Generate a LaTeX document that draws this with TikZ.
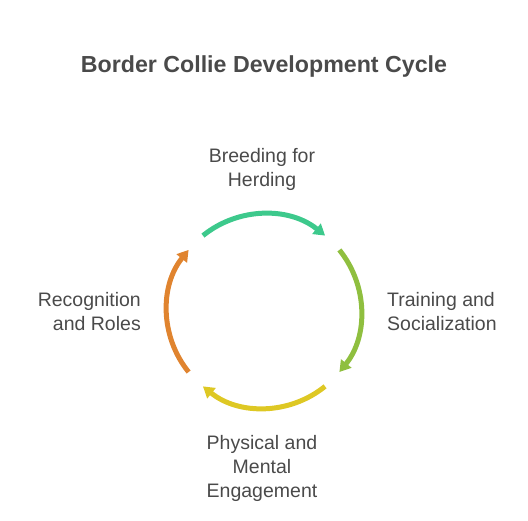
\documentclass[tikz,border=0pt]{standalone}
\usepackage{fontspec}
\setmainfont{Liberation Sans}
\usetikzlibrary{arrows.meta,calc}
\definecolor{textgray}{HTML}{4A4A4A}
\definecolor{cgreen}{HTML}{3DC98C}
\definecolor{clime}{HTML}{8FBF3F}
\definecolor{cyellow}{HTML}{DEC824}
\definecolor{corange}{HTML}{E0842F}
\begin{document}
\begin{tikzpicture}[x=1pt, y=1pt]
\useasboundingbox (0,0) rectangle (528,521);

\tikzset{every node/.style={text=textgray, inner sep=0pt, font=\fontsize{19.5}{24}\selectfont}}
\node[anchor=base, font=\bfseries\fontsize{23.2}{28}\selectfont] (title) at (264, 448) {Border Collie Development Cycle};
\node[anchor=base, align=center] (breeding) at (262, 334) {Breeding for\\Herding};
\node[anchor=base west, align=left] (training) at (387, 190) {Training and\\Socialization};
\node[anchor=base, align=center] (physical) at (262, 23) {Physical and\\Mental\\Engagement};
\node[anchor=base east, align=right] (recognition) at (141, 190) {Recognition\\and Roles};

\coordinate (c) at (264, 210);
\coordinate (g1) at ($(c)+(129:97)$);
\coordinate (l1) at ($(c)+(39:97)$);
\coordinate (y1) at ($(c)+(-51:97)$);
\coordinate (o1) at ($(c)+(-141:97)$);

\tikzset{mystyle/.style={line width=5pt, -{Triangle[length=11pt,width=13pt]}}}
\draw[mystyle, cgreen] (g1) arc[start angle=129, end angle=51, radius=97];
\draw[mystyle, clime] (l1) arc[start angle=39, end angle=-39, radius=97];
\draw[mystyle, cyellow] (y1) arc[start angle=-51, end angle=-129, radius=97];
\draw[mystyle, corange] (o1) arc[start angle=-141, end angle=-219, radius=97];
\end{tikzpicture}
\end{document}
